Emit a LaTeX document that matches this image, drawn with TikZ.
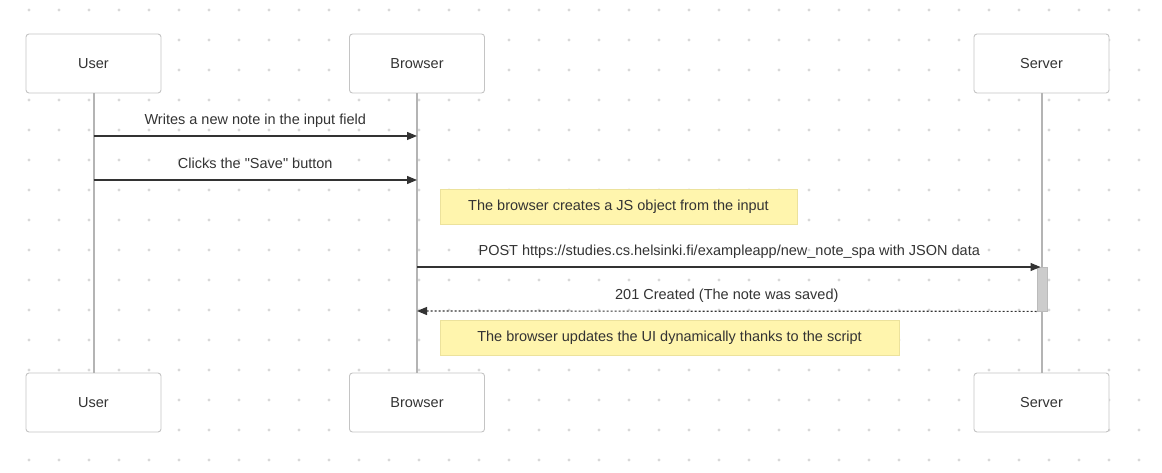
\documentclass[tikz,border=0pt]{standalone}
\usepackage{fontspec}
\setmainfont{Liberation Sans}
\usetikzlibrary{arrows.meta,positioning}
\definecolor{txt}{HTML}{333333}
\definecolor{boxgray}{HTML}{C4C4C4}
\definecolor{lifegray}{HTML}{B4B4B4}
\definecolor{dotgray}{HTML}{D8D8D8}
\definecolor{notefill}{HTML}{FFF5AD}
\definecolor{noteline}{HTML}{ECE29C}
\definecolor{actfill}{HTML}{CCCCCC}
\definecolor{actline}{HTML}{BBBBBB}

\begin{document}
\begin{tikzpicture}[x=1pt,y=-1pt,font=\fontsize{14.5}{17}\selectfont,text=txt,
    actor/.style={draw=boxgray,fill=white,rounded corners=3pt,line width=0.9pt,
      minimum width=135pt,minimum height=59pt},
    life/.style={draw=lifegray,line width=2pt},
    msg/.style={draw=txt,line width=1.2pt,-{Triangle[length=10pt,width=8pt]}},
    reply/.style={msg,dash pattern=on 2pt off 2pt},
    msglbl/.style={above=4.5pt,text height=10.5pt,text depth=3pt},
    note/.style={draw=noteline,fill=notefill,line width=0.9pt,minimum height=35pt}]
\useasboundingbox (0,0) rectangle (1162,473);
% dotted background
\foreach \x in {29,59,...,1139}
  \foreach \y in {10,40,...,460}
    \fill[dotgray] (\x,\y) circle (1.6pt);

% actors
\node[actor] (userT) at (93.5,63.5) {User};
\node[actor] (browserT) at (417,63.5) {Browser};
\node[actor] (serverT) at (1041.5,63.5) {Server};
\node[actor] (userB) at (93.5,402.5) {User};
\node[actor] (browserB) at (417,402.5) {Browser};
\node[actor] (serverB) at (1041.5,402.5) {Server};

% lifelines
\draw[life] (userT) -- (userB);
\draw[life] (browserT) -- (browserB);
\draw[life] (serverT) -- (serverB);

% message rows
\coordinate (r1) at (0,136);
\coordinate (r2) at (0,180);
\coordinate (r3) at (0,267);
\coordinate (r4) at (0,311);

\node[draw=actline,fill=actfill,line width=0.8pt,inner sep=0pt,
  minimum width=10pt,minimum height=44pt] (act) at (1042,289) {};

\draw[msg] (userT |- r1) -- node[msglbl] (m1) {Writes a new note in the input field} (browserT |- r1);
\draw[msg] (userT |- r2) -- node[msglbl] (m2) {Clicks the \textquotedbl Save\textquotedbl{} button} (browserT |- r2);
\node[note,minimum width=357pt] (note1) at (618.5,206.5) {The browser creates a JS object from the input};
\draw[msg,shorten >=1pt] (browserT |- r3) -- node[msglbl] (m3) {POST https://studies.cs.helsinki.fi/exampleapp/new\_note\_spa with JSON data} (serverT |- r3);
\draw[reply] (act.south west) -- node[msglbl] (m4) {201 Created (The note was saved)} (browserT |- r4);
\node[note,minimum width=459pt] (note2) at (669.5,337.5) {The browser updates the UI dynamically thanks to the script};
\end{tikzpicture}
\end{document}
